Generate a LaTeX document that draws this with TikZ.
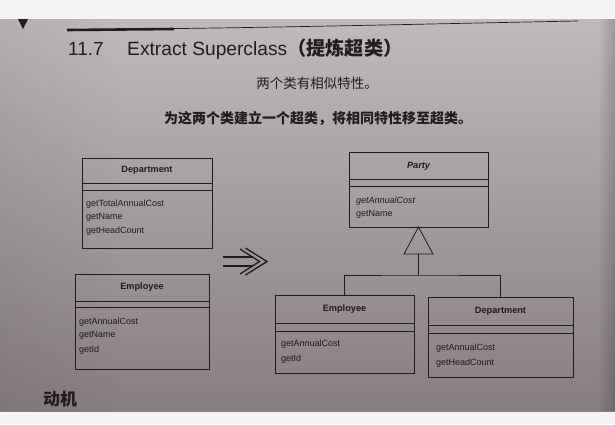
\documentclass[tikz,border=0pt]{standalone}
\usepackage{fontspec}
\setmainfont{Liberation Sans}
\newfontfamily\cjk{Noto Sans CJK SC}
\usetikzlibrary{fadings,calc}
\definecolor{pagetop}{HTML}{C0BABC}
\definecolor{pagebot}{HTML}{867E80}
\definecolor{ink}{HTML}{221C1C}
\definecolor{strip}{HTML}{F4F4F4}
\tikzfading[name=shadowright, left color=transparent!100, right color=transparent!0]
\tikzfading[name=shadowleft, left color=transparent!0, right color=transparent!100]
\tikzset{
  ln/.style={draw=ink, line width=0.8pt},
  box/.style={ln, rectangle, inner sep=0pt, outer sep=0pt},
  ctitle/.style={text=ink, font=\fontsize{9.2}{10}\selectfont\bfseries, inner sep=0pt},
  attr/.style={text=ink, font=\fontsize{9}{10}\selectfont, inner sep=0pt, anchor=base west},
}
% #1 name, #2 x1, #3 y1, #4 x2, #5 y2, #6 sep1, #7 sep2
\newcommand{\umlclass}[7]{%
  \node[box, minimum width={(#4-#2)*1pt}, minimum height={(#5-#3)*1pt}] (#1) at ({(#2+#4)/2},{(#3+#5)/2}) {};
  \draw[ln] (#2,#6) -- (#4,#6);
  \draw[ln] (#2,#7) -- (#4,#7);
}
\begin{document}
\begin{tikzpicture}[x=1pt,y=-1pt]
\useasboundingbox (0,0) rectangle (615,424);
% background
\fill[strip] (0,0) rectangle (615,424);
\shade[top color=pagetop, bottom color=pagebot] (0,19) rectangle (615,411);
\fill[black, opacity=0.18, path fading=shadowright] (598,19) rectangle (615,411);
\fill[black, opacity=0.06, path fading=shadowleft] (0,19) rectangle (120,411);
% header
\fill[ink] (18,19) -- (28,19) -- (23,29) -- cycle;
\draw[ink, line width=2.6pt] (67,30) -- (174,29);
\draw[ink, line width=0.7pt] (174,28.6) .. controls (330,26.5) and (470,23) .. (578,21);
\node[text=ink, font=\fontsize{19}{20}\selectfont, anchor=base west, inner sep=0pt] (num) at (68,55) {11.7};
\node[text=ink, font=\fontsize{19.2}{20}\selectfont, anchor=base west, inner sep=0pt] (ttl) at (127,55) {Extract Superclass\cjk\bfseries（提炼超类）};
\node[text=ink, font=\cjk\fontsize{13.5}{15}\selectfont, inner sep=0pt] (sub1) at (317,83) {两个类有相似特性。};
\node[text=ink, font=\cjk\bfseries\fontsize{14}{15}\selectfont, inner sep=0pt] (sub2) at (318,118) {为这两个类建立一个超类，将相同特性移至超类。};
\node[text=ink, font=\cjk\bfseries\fontsize{17}{18}\selectfont, anchor=west, inner sep=0pt] (mot) at (43,399) {动机};
% left Department
\umlclass{dep1}{82}{158}{212}{248}{183}{190}
\node[ctitle] (dep1t) at (147,170.5) {Department};
\node[attr] (dep1a) at (86,206) {getTotalAnnualCost};
\node[attr] (dep1b) at (86,219.5) {getName};
\node[attr] (dep1c) at (86,233) {getHeadCount};
% left Employee
\umlclass{emp1}{75}{274}{209}{369}{301}{307}
\node[ctitle] (emp1t) at (142,287.5) {Employee};
\node[attr] (emp1a) at (79,324) {getAnnualCost};
\node[attr] (emp1b) at (79,337.5) {getName};
\node[attr] (emp1c) at (79,352) {getId};
% arrow
\coordinate (a1) at (223,257);
\coordinate (a2) at (223,266);
\draw[ink, line width=1.3pt] (a1) -- ++(30,0);
\draw[ink, line width=1.3pt] (a2) -- ++(30,0);
\draw[ink, line width=1.3pt, line join=miter] (240,249) -- (259.5,261.5) -- (240,274);
\draw[ink, line width=1.3pt, line join=miter] (245.5,248) -- (267,261.5) -- (245.5,275);
% Party
\umlclass{party}{349}{152}{488}{227}{179}{186}
\node[ctitle, font=\fontsize{9.2}{10}\selectfont\bfseries\itshape] (partyt) at (418.5,166) {Party};
\node[attr, font=\fontsize{9}{10}\selectfont\itshape] (partya) at (356,203) {getAnnualCost};
\node[attr] (partyb) at (356,216.5) {getName};
% right Employee
\umlclass{emp2}{275}{295}{414}{373}{323}{331}
\node[ctitle] (emp2t) at (344.5,309) {Employee};
\node[attr] (emp2a) at (281,346.5) {getAnnualCost};
\node[attr] (emp2b) at (281,361) {getId};
% right Department
\umlclass{dep2}{428}{297}{573}{377}{325}{333}
\node[ctitle] (dep2t) at (500.5,311) {Department};
\node[attr] (dep2a) at (436,350.5) {getAnnualCost};
\node[attr] (dep2b) at (436,365.5) {getHeadCount};
% generalization
\coordinate (tb) at ($(party.south)+(0,27)$);
\coordinate (jn) at ($(party.south)+(0,48)$);
\draw[ln, line join=miter] (party.south) -- ++(14.5,27) -- ++(-29,0) -- cycle;
\draw[ln] (tb) -- (jn);
\draw[ln] (emp2.north) |- (jn) -| (dep2.north);
\end{tikzpicture}
\end{document}
